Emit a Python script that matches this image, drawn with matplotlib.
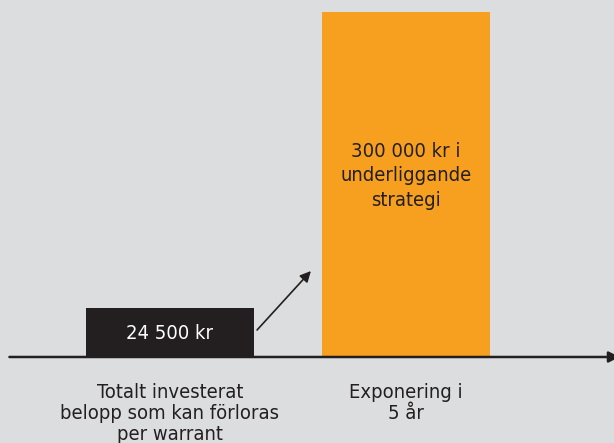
import matplotlib.pyplot as plt

# chart data (bar heights are illustrative, not to scale)
categories = ['Totalt investerat\nbelopp som kan förloras\nper warrant',
              'Exponering i\n5 år']
bar_heights = [1, 7]
bar_labels = ['24 500 kr', '300 000 kr i\nunderliggande\nstrategi']
bar_colors = ['#231f20', '#f7a01f']
label_colors = ['#ffffff', '#231f20']

bg = '#dcdddf'
font = dict(family='DejaVu Sans', fontstretch='condensed', fontsize=14.5)

fig = plt.figure(figsize=(6.14, 4.43), dpi=100, facecolor=bg)
ax = fig.add_axes([0, 0, 1, 1])
ax.set_facecolor(bg)
ax.set_xlim(-0.72, 1.881)
ax.set_ylim(-1.745, 7.243)
ax.axis('off')

positions = list(range(len(categories)))
bars = ax.bar(positions, bar_heights, width=0.712, color=bar_colors, zorder=2)

# bar labels
ax.text(positions[0], bar_heights[0] / 2 - 0.02, bar_labels[0], color=label_colors[0],
        ha='center', va='center', **font)
ax.text(positions[1], bar_heights[1] * 0.525, bar_labels[1], color=label_colors[1],
        ha='center', va='center', linespacing=1.35, **font)

# category labels below the axis
for p, c in zip(positions, categories):
    ax.text(p, -0.52, c, color='#231f20', ha='center', va='top',
            linespacing=1.15, **font)

# baseline with arrow (head partly off the right edge)
ax.annotate('', xy=(1.905, 0), xytext=(-0.68, 0), annotation_clip=False,
            arrowprops=dict(arrowstyle='-|>', color='#231f20', lw=1.8,
                            mutation_scale=16, shrinkA=0, shrinkB=0), zorder=3)

# arrow from small bar towards big bar
ax.annotate('', xy=(0.597, 1.744), xytext=(0.369, 0.548),
            arrowprops=dict(arrowstyle='-|>', color='#231f20', lw=1.2,
                            mutation_scale=16, shrinkA=0, shrinkB=0))

plt.savefig('out.png', dpi=100, facecolor=bg)
